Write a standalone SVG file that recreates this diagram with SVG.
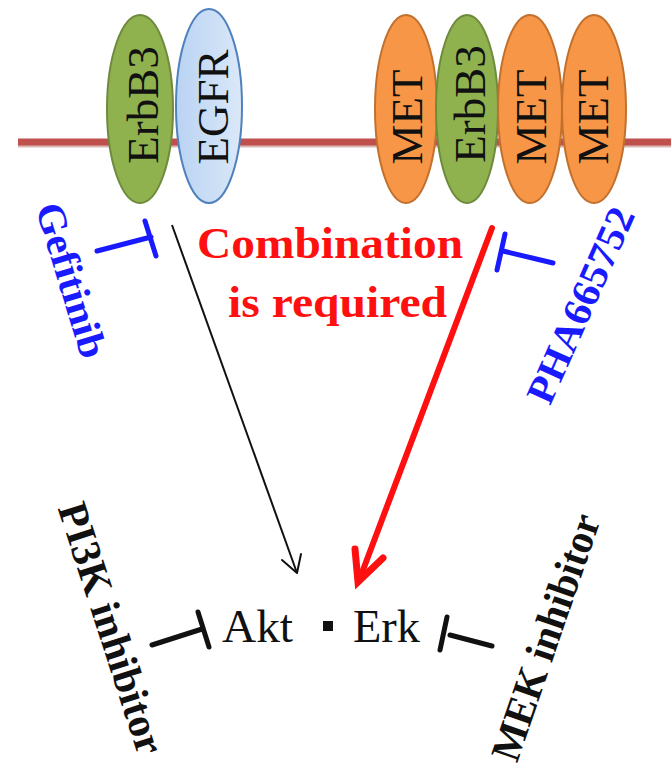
<svg xmlns="http://www.w3.org/2000/svg" width="671" height="770" viewBox="0 0 671 770">
<defs>
<linearGradient id="gBlue" x1="0" y1="0" x2="1" y2="0">
<stop offset="0" stop-color="#b9d3f3"/><stop offset="1" stop-color="#dbe8f8"/>
</linearGradient>
<style>
.rcp{font-family:"Liberation Serif","Times New Roman",serif;font-size:45px;fill:#111;text-anchor:middle}
.green{fill:#8fb24f;stroke:#6e8b3d;stroke-width:2}
.blue{fill:url(#gBlue);stroke:#4f81bd;stroke-width:2}
.orange{fill:#f79646;stroke:#c2702d;stroke-width:2}
.drug{font-family:"Liberation Serif","Times New Roman",serif;font-weight:bold;fill:#1a1aff;text-anchor:middle}
.inh{font-family:"Liberation Serif","Times New Roman",serif;font-weight:bold;fill:#111;text-anchor:middle;font-size:42px}
.prot{font-family:"Liberation Serif","Times New Roman",serif;font-size:47px;fill:#111}
.red{font-family:"Liberation Serif","Times New Roman",serif;font-weight:bold;fill:#ff1010;font-size:45px}
.tb{stroke:#1a1aff;stroke-width:5;fill:none;stroke-linecap:round}
.tk{stroke:#111;stroke-width:5;fill:none;stroke-linecap:round}
</style>
</defs>
<rect width="671" height="770" fill="#fff"/>
<g id="membrane">
<line x1="18" y1="145" x2="671" y2="145" stroke="#d9b8b7" stroke-width="5"/>
<line x1="18" y1="142" x2="671" y2="142" stroke="#c0504d" stroke-width="7"/>
</g>
<g id="erbb3-left"><ellipse class="green" cx="140" cy="109" rx="33" ry="94"/><text class="rcp" transform="translate(142,105) rotate(-90)" dy="0.35em">ErbB3</text></g>
<g id="egfr"><ellipse class="blue" cx="209" cy="106" rx="33" ry="97"/><text class="rcp" transform="translate(212,107) rotate(-90)" dy="0.35em">EGFR</text></g>
<g id="met1"><ellipse class="orange" cx="406" cy="109" rx="31" ry="94"/><text class="rcp" transform="translate(406,117) rotate(-90)" dy="0.35em">MET</text></g>
<g id="erbb3-right"><ellipse class="green" cx="467" cy="109" rx="31" ry="94"/><text class="rcp" transform="translate(469,104) rotate(-90)" dy="0.35em">ErbB3</text></g>
<g id="met2"><ellipse class="orange" cx="530" cy="109" rx="32" ry="94"/><text class="rcp" transform="translate(530,117) rotate(-90)" dy="0.35em">MET</text></g>
<g id="met3"><ellipse class="orange" cx="594" cy="109" rx="32" ry="94"/><text class="rcp" transform="translate(592,117) rotate(-90)" dy="0.35em">MET</text></g>
<g id="gefitinib"><text class="drug" font-size="40" transform="translate(72,280) rotate(73)" dy="0.35em" textLength="160" lengthAdjust="spacingAndGlyphs">Gefitinib</text></g>
<g id="pha"><text class="drug" font-size="40" transform="translate(580,305) rotate(-66)" dy="0.35em" textLength="210" lengthAdjust="spacingAndGlyphs">PHA665752</text></g>
<g id="combination">
<text class="red" x="197" y="258" textLength="266" lengthAdjust="spacingAndGlyphs">Combination</text>
<text class="red" x="228" y="317" textLength="219" lengthAdjust="spacingAndGlyphs">is required</text>
</g>
<g id="akt-erk">
<text class="prot" x="222" y="642" textLength="71" lengthAdjust="spacingAndGlyphs">Akt</text>
<rect x="323" y="621" width="10" height="10" fill="#111"/>
<text class="prot" x="353" y="642" textLength="67" lengthAdjust="spacingAndGlyphs">Erk</text>
</g>
<g id="pi3k"><text class="inh" transform="translate(112,628) rotate(72)" dy="0.35em" textLength="262" lengthAdjust="spacingAndGlyphs">PI3K inhibitor</text></g>
<g id="mek"><text class="inh" transform="translate(545,637) rotate(-71)" dy="0.35em" textLength="258" lengthAdjust="spacingAndGlyphs">MEK inhibitor</text></g>
<g id="connectors">
<path class="tb" d="M97,251 L151,237 M145,221 L156,256"/>
<path class="tb" d="M553,263 L503,251 M505,234 L497,270"/>
<line x1="172" y1="225" x2="297" y2="573" stroke="#111" stroke-width="2"/>
<path d="M282,560 L297,573 L301,554" fill="none" stroke="#111" stroke-width="2" stroke-linecap="round" stroke-linejoin="round"/>
<line x1="492" y1="228" x2="360" y2="578" stroke="#ff1010" stroke-width="6" stroke-linecap="round"/>
<path d="M355,549 L358,582 L383,558" fill="none" stroke="#ff1010" stroke-width="7" stroke-linecap="round" stroke-linejoin="miter"/>
<path class="tk" d="M152,645 L202,629 M198,612 L209,647"/>
<path class="tk" d="M492,646 L450,635 M447,617 L440,650"/>
</g>
</svg>
